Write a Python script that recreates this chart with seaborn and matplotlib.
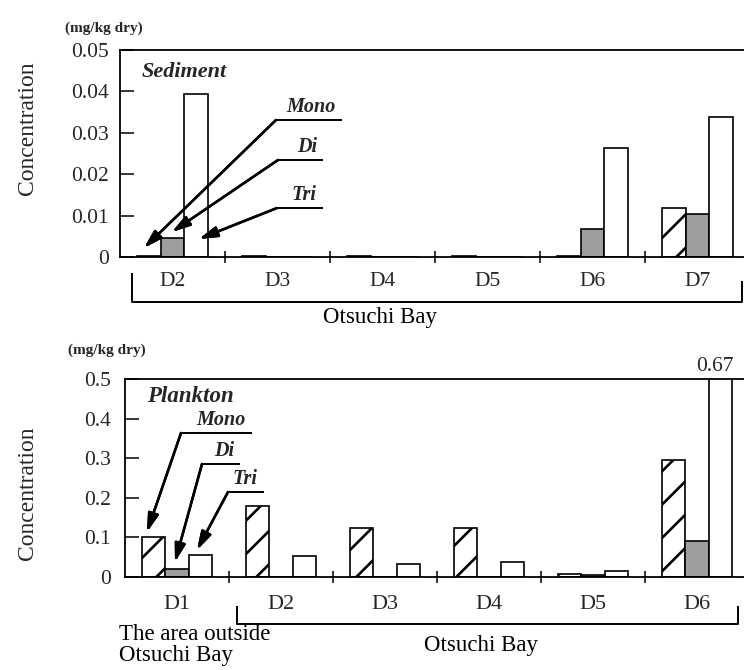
import numpy as np
import pandas as pd
import matplotlib
matplotlib.use("Agg")
import matplotlib.pyplot as plt
import seaborn as sns
from matplotlib.lines import Line2D
from matplotlib.ticker import FixedLocator

# Butyltin concentrations (mg/kg dry)
compounds = ["Mono", "Di", "Tri"]

sediment_sites = ["D2", "D3", "D4", "D5", "D6", "D7"]
sediment_mono = [0.0003, 0.0003, 0.0003, 0.0003, 0.0003, 0.0118]
sediment_di = [0.0047, 0.0, 0.0, 0.0, 0.0068, 0.0104]
sediment_tri = [0.0394, 0.0, 0.0, 0.0, 0.0263, 0.0338]

plankton_sites = ["D1", "D2", "D3", "D4", "D5", "D6"]
plankton_mono = [0.10, 0.18, 0.125, 0.125, 0.008, 0.295]
plankton_di = [0.02, 0.0, 0.0, 0.0, 0.006, 0.09]
plankton_tri = [0.055, 0.053, 0.033, 0.038, 0.015, 0.67]

sediment_ticks = [0, 0.01, 0.02, 0.03, 0.04, 0.05]
sediment_ticklabels = ["0", "0.01", "0.02", "0.03", "0.04", "0.05"]
plankton_ticks = [0, 0.1, 0.2, 0.3, 0.4, 0.5]
plankton_ticklabels = ["0", "0.1", "0.2", "0.3", "0.4", "0.5"]


def long_table(sites, mono, di, tri):
    rows = []
    for name, vals in zip(compounds, [mono, di, tri]):
        for s, v in zip(sites, vals):
            rows.append({"site": s, "compound": name, "value": v})
    return pd.DataFrame(rows)


sns.set_style("ticks")
plt.rcParams["font.family"] = ["Liberation Serif", "DejaVu Serif"]
plt.rcParams["hatch.linewidth"] = 1.9
plt.rcParams["axes.linewidth"] = 1.3

W, H = 744, 670
fig = plt.figure(figsize=(W / 100, H / 100), dpi=100)
fig.patch.set_facecolor("white")


def fx(x):
    return x / W


def fy(y):
    return 1 - y / H


def axes_px(left, right, top, bottom):
    return fig.add_axes([fx(left), fy(bottom), (right - left) / W, (bottom - top) / H])


faces = {"Mono": "white", "Di": "#9e9e9e", "Tri": "white"}
hatches = {"Mono": "/", "Di": "", "Tri": ""}


def draw_panel(ax, sites, mono, di, tri, ticks, ticklabels, ymax,
               xsize, ysize, xpad, ypad):
    df = long_table(sites, mono, di, tri)
    sns.barplot(data=df, x="site", y="value", hue="compound", hue_order=compounds,
                order=sites, width=0.68, ax=ax, legend=False, errorbar=None,
                palette=faces, edgecolor="black", linewidth=1.2, saturation=1)
    n = len(sites)
    for i, p in enumerate(ax.patches):
        comp = compounds[i // n]
        p.set_facecolor(faces[comp])
        p.set_hatch(hatches[comp])
        p.set_edgecolor("black")
    ax.set_xlim(-0.5, n - 0.5)
    ax.set_ylim(0, ymax)
    ax.set_xlabel("")
    ax.set_ylabel("")
    ax.set_yticks(ticks)
    ax.set_yticklabels(ticklabels, fontsize=ysize)
    ax.xaxis.set_minor_locator(FixedLocator(np.arange(0.5, n - 1, 1.0)))
    ax.tick_params(axis="x", which="major", length=0, labelsize=xsize, pad=xpad)
    ax.tick_params(axis="x", which="minor", direction="inout", length=9, width=1.3)
    ax.tick_params(axis="y", direction="in", length=10, width=1.3, pad=ypad)
    for s in ["top", "left", "bottom"]:
        ax.spines[s].set_visible(True)
        ax.spines[s].set_color("black")
    ax.spines["right"].set_visible(False)
    ax.set_facecolor("white")
    return df


# ---- Sediment panel ----
ax1 = axes_px(120, 750, 50, 257)
draw_panel(ax1, sediment_sites, sediment_mono, sediment_di, sediment_tri,
           sediment_ticks, sediment_ticklabels, 0.05, 15.5, 15.5, 11, 8)
ax1.text(0.035, 0.895, "Sediment", transform=ax1.transAxes, fontsize=16,
         fontweight="bold", fontstyle="italic", ha="left", va="center")

# ---- Plankton panel ----
ax2 = axes_px(125, 749, 379, 577)
draw_panel(ax2, plankton_sites, plankton_mono, plankton_di, plankton_tri,
           plankton_ticks, plankton_ticklabels, 0.5, 16, 15.5, 13, 10)
ax2.text(0.035, 0.91, "Plankton", transform=ax2.transAxes, fontsize=16.5,
         fontweight="bold", fontstyle="italic", ha="left", va="center")

# value of the clipped bar written above the frame
tall = max(ax2.patches, key=lambda p: p.get_height())
ax2.annotate(f"{tall.get_height():.2f}",
             xy=(tall.get_x() + tall.get_width() / 2, 1.0),
             xycoords=ax2.get_xaxis_transform(), xytext=(-4, 2),
             textcoords="offset points", ha="center", va="bottom", fontsize=15.5)

# ---- figure-level text ----
txt = dict(fontsize=16.5, color="black")
fig.text(fx(65), fy(28), "(mg/kg dry)", fontsize=11, fontweight="bold", va="center", ha="left")
fig.text(fx(68), fy(350), "(mg/kg dry)", fontsize=11, fontweight="bold", va="center", ha="left")
fig.text(fx(28), fy(128), "Concentration", rotation=90, ha="center", va="center", fontsize=17)
fig.text(fx(28), fy(493), "Concentration", rotation=90, ha="center", va="center", fontsize=17)
fig.text(fx(380), fy(317), "Otsuchi Bay", ha="center", va="center", **txt)
fig.text(fx(481), fy(645), "Otsuchi Bay", ha="center", va="center", **txt)
fig.text(fx(119), fy(635), "The area outside", ha="left", va="center", **txt)
fig.text(fx(119), fy(656), "Otsuchi Bay", ha="left", va="center", **txt)


def fig_line(xs, ys, lw=1.4):
    fig.add_artist(Line2D([fx(x) for x in xs], [fy(y) for y in ys],
                          color="black", lw=lw, solid_capstyle="butt"))


# site group brackets
fig_line([132, 132, 742, 742], [273, 302, 302, 281])
fig_line([237, 237, 738, 738], [606, 624, 624, 606])


def callout(label, x0, x1, y, tip, size=14.5):
    fig_line([x0, x1], [y, y], lw=1.4)
    fig.text(fx(x1 - 6), fy(y - 3), label, ha="right", va="bottom",
             fontsize=size, fontweight="bold", fontstyle="italic")
    fig.add_artist(plt.annotate(
        "", xy=(fx(tip[0]), fy(tip[1])), xytext=(fx(x0), fy(y)),
        xycoords="figure fraction", textcoords="figure fraction",
        arrowprops=dict(arrowstyle="-|>,head_length=1.1,head_width=0.32",
                        color="black", lw=1.8, shrinkA=0, shrinkB=0)))


callout("Mono", 276, 342, 120, (144, 248))
callout("Di", 278, 323, 160, (172, 232))
callout("Tri", 277, 323, 208, (199, 239))

callout("Mono", 181, 252, 433, (147, 532), size=14.5)
callout("Di", 202, 240, 464, (175, 562), size=14.5)
callout("Tri", 228, 264, 492, (197, 550), size=14.5)

fig.savefig("out.png", dpi=100, facecolor="white")
